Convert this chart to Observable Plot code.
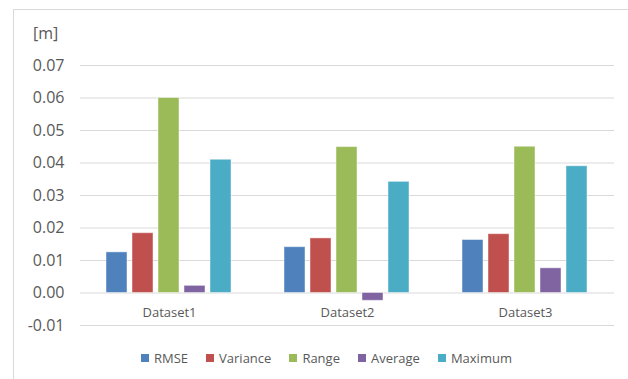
<!DOCTYPE html>
<html>
<head>
<meta charset="utf-8">
<script src="https://cdn.jsdelivr.net/npm/d3@7"></script>
<script src="https://cdn.jsdelivr.net/npm/@observablehq/plot@0.6"></script>
<style>
  html, body { margin: 0; padding: 0; background: #fff; }
  #chart { position: relative; width: 628px; height: 379px; overflow: hidden; font-family: "Open Sans", sans-serif; color: #595959; }
  #frame { position: absolute; left: 13px; top: 9px; width: 700px; height: 500px; border-left: 1px solid #d9d9d9; border-top: 1px solid #d9d9d9; box-sizing: border-box; }
  #plot { position: absolute; left: 0; top: 0; }
  #unit { position: absolute; left: 33px; top: 22px; font-size: 16px; line-height: 22px; }
  #legend { position: absolute; left: 141px; top: 348px; display: flex; gap: 18px; font-size: 13px; line-height: 20px; }
  #legend .item { display: flex; align-items: center; gap: 5px; }
  #legend .sw { width: 8px; height: 8px; display: inline-block; }
</style>
</head>
<body>
<div id="chart">
  <div id="frame"></div>
  <div id="plot"></div>
  <div id="unit">[m]</div>
  <div id="legend"></div>
</div>
<script>
// Statistics per dataset, in metres
const datasets = ["Dataset1", "Dataset2", "Dataset3"];
const metrics = ["RMSE", "Variance", "Range", "Average", "Maximum"];
const colors = ["#4f81bd", "#c0504d", "#9bbb59", "#8064a2", "#4bacc6"];
const rmse = [0.0125, 0.0141, 0.0163];
const variance = [0.0184, 0.0168, 0.0181];
const range = [0.0600, 0.0449, 0.0450];
const average = [0.0022, -0.0024, 0.0076];
const maximum = [0.0410, 0.0342, 0.0390];
const yTicks = [-0.01, 0, 0.01, 0.02, 0.03, 0.04, 0.05, 0.06, 0.07];

const series = [rmse, variance, range, average, maximum];
const rows = [];
datasets.forEach((d, i) => {
  metrics.forEach((m, j) => rows.push({dataset: d, metric: m, value: series[j][i]}));
});

const chart = Plot.plot({
  width: 628,
  height: 345,
  marginLeft: 79,
  marginRight: 14,
  marginTop: 65,
  marginBottom: 20,
  style: {fontFamily: "Open Sans, sans-serif", color: "#595959", background: "transparent", overflow: "visible"},
  fx: {domain: datasets, padding: 0, axis: null},
  x: {domain: metrics, paddingInner: 0.185, paddingOuter: 0.89, axis: null},
  y: {domain: [-0.01, 0.07], axis: null},
  color: {domain: metrics, range: colors},
  marks: [
    Plot.ruleY(yTicks, {stroke: "#d9d9d9", strokeWidth: 1.2}),
    Plot.axisY({facetAnchor: "left", ticks: yTicks, tickFormat: d => d.toFixed(2), tickSize: 0, tickPadding: 16, fontSize: 16, fill: "#595959", label: null}),
    Plot.barY(rows, {fx: "dataset", x: "metric", y: "value", fill: "metric", stroke: "#ffffff", strokeOpacity: 0.45, strokeWidth: 1}),
    Plot.text(datasets, {fx: d => d, y: 0, text: d => d, dy: 20, fontSize: 13, fill: "#595959"})
  ]
});
document.getElementById("plot").appendChild(chart);

const legend = document.getElementById("legend");
metrics.forEach((m, j) => {
  const item = document.createElement("span");
  item.className = "item";
  const sw = document.createElement("span");
  sw.className = "sw";
  sw.style.background = colors[j];
  const label = document.createElement("span");
  label.textContent = m;
  item.appendChild(sw);
  item.appendChild(label);
  legend.appendChild(item);
});
</script>
</body>
</html>
